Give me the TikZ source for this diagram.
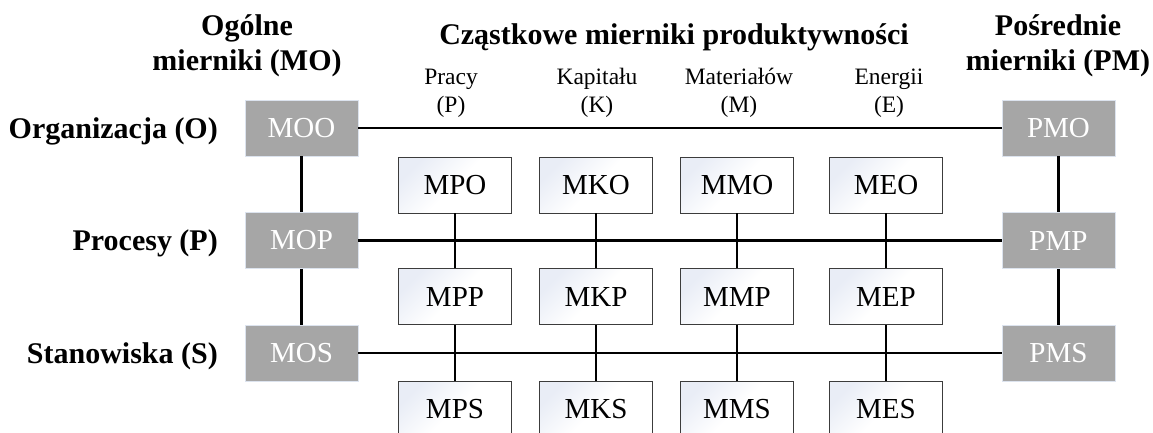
\documentclass[tikz,border=0pt]{standalone}
\usepackage{fontspec}
\setmainfont{Liberation Serif}
\definecolor{boxgray}{HTML}{A6A6A6}
\definecolor{glow}{HTML}{DCE3EE}
\definecolor{tintblue}{HTML}{E9EDF6}
\definecolor{rimgray}{HTML}{3C3C3C}
\begin{document}
\begin{tikzpicture}[x=1pt,y=-1pt,
  graybox/.style={rectangle, fill=boxgray, draw=glow, line width=0.8pt,
    minimum width=113pt, minimum height=56pt, inner sep=0pt,
    text=white, font=\fontsize{29}{31}\selectfont},
  whitebox/.style={rectangle, draw=rimgray, line width=0.7pt,
    top color=tintblue, bottom color=white, middle color=white, shading angle=45,
    minimum width=113pt, minimum height=56pt, inner sep=0pt,
    font=\fontsize{29}{31}\selectfont},
  heading/.style={anchor=base, font=\bfseries\fontsize{30}{32}\selectfont, inner sep=0pt},
  rowlabel/.style={anchor=base east, font=\bfseries\fontsize{30}{32}\selectfont, inner sep=0pt},
  sublabel/.style={anchor=base, font=\fontsize{23.5}{25}\selectfont, inner sep=0pt},
  link/.style={line width=2.7pt, black}]
\useasboundingbox (0,0) rectangle (1153,432);

% column headings
\node[heading] (hmo1) at (247,35) {Ogólne};
\node[heading] (hmo2) at (247,70) {mierniki (MO)};
\node[heading] (hcz) at (674,44) {Cząstkowe mierniki produktywności};
\node[heading] (hpm1) at (1058,35) {Pośrednie};
\node[heading] (hpm2) at (1058,70) {mierniki (PM)};

% factor labels
\node[sublabel] (lp1) at (451,84) {Pracy};
\node[sublabel] (lp2) at (451,112) {(P)};
\node[sublabel] (lk1) at (597,84) {Kapitału};
\node[sublabel] (lk2) at (597,112) {(K)};
\node[sublabel] (lm1) at (739,84) {Materiałów};
\node[sublabel] (lm2) at (739,112) {(M)};
\node[sublabel] (le1) at (889,84) {Energii};
\node[sublabel] (le2) at (889,112) {(E)};

% row labels
\node[rowlabel] (ro) at (218,138) {Organizacja (O)};
\node[rowlabel] (rp) at (218,250.5) {Procesy (P)};
\node[rowlabel] (rs) at (218,363) {Stanowiska (S)};

% general and intermediate measures
\node[graybox] (MOO) at (301.5,128) {MOO};
\node[graybox] (MOP) at (301.5,240.5) {MOP};
\node[graybox] (MOS) at (301.5,353) {MOS};
\node[graybox] (PMO) at (1058.5,128) {PMO};
\node[graybox] (PMP) at (1058.5,240.5) {PMP};
\node[graybox] (PMS) at (1058.5,353) {PMS};

% partial measures
\foreach \n/\x in {P/455,K/596,M/737,E/886}{
  \node[whitebox] (M\n O) at (\x,185) {M\n O};
  \node[whitebox] (M\n P) at (\x,296.5) {M\n P};
  \node[whitebox] (M\n S) at (\x,409) {M\n S};
}

% connectors
\draw[link] (MOO.east) -- (PMO.west);
\draw[link] (MOP.east) -- (PMP.west);
\draw[link] (MOS.east) -- (PMS.west);
\draw[link] (MOO.south) -- (MOP.north);
\draw[link] (MOP.south) -- (MOS.north);
\draw[link] (PMO.south) -- (PMP.north);
\draw[link] (PMP.south) -- (PMS.north);
\foreach \n in {P,K,M,E}{
  \draw[link] (M\n O.south) -- (M\n P.north);
  \draw[link] (M\n P.south) -- (M\n S.north);
}
\end{tikzpicture}
\end{document}
